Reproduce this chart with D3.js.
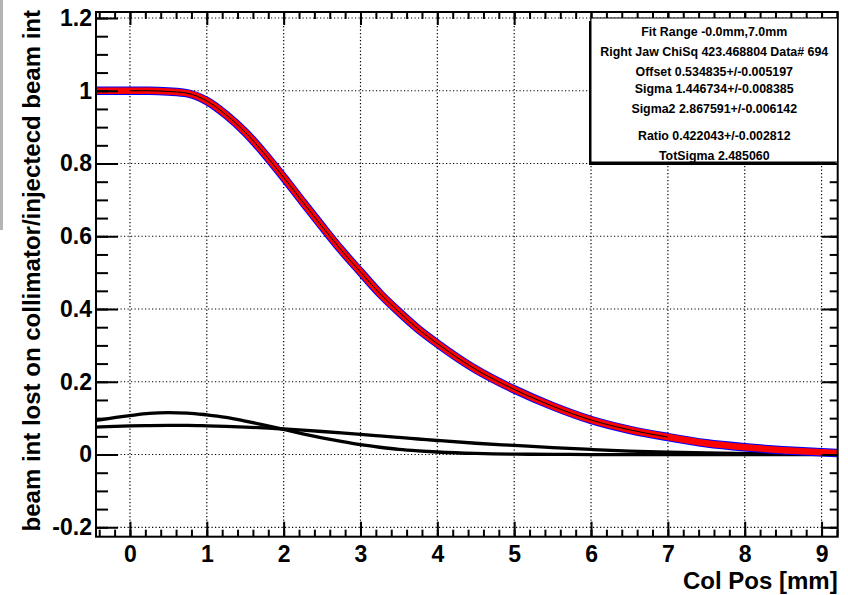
<!DOCTYPE html>
<html>
<head>
<meta charset="utf-8">
<script src="https://cdn.jsdelivr.net/npm/d3@7"></script>
<style>
  body { margin: 0; background: #fff; }
  svg { display: block; font-family: "Liberation Sans", Arial, Helvetica, sans-serif; font-weight: bold; }
</style>
</head>
<body>
<div id="my_dataviz"></div>
<script>
// collimator position scan
const colPos = [-0.44, 0, 0.25, 0.5, 0.75, 1, 1.25, 1.5, 1.75, 2, 2.25, 2.5, 2.75, 3, 3.25, 3.5, 3.75, 4, 4.5, 5, 5.5, 6, 6.5, 7, 7.5, 8, 8.5, 9, 9.21];
const beamLost = [1.0, 1.0, 1.0, 0.998, 0.993, 0.972, 0.934, 0.886, 0.827, 0.762, 0.694, 0.627, 0.562, 0.502, 0.443, 0.392, 0.345, 0.305, 0.234, 0.179, 0.133, 0.095, 0.068, 0.048, 0.031, 0.020, 0.012, 0.006, 0.004];
const gausNarrow = [0.094, 0.107, 0.113, 0.115, 0.114, 0.109, 0.102, 0.092, 0.081, 0.069, 0.057, 0.046, 0.036, 0.027, 0.020, 0.014, 0.010, 0.007, 0.003, 0.001, 0.0005, 0, 0, 0, 0, 0, 0, 0, 0];
const gausWide = [0.0755, 0.0786, 0.0796, 0.080, 0.080, 0.079, 0.0776, 0.0756, 0.0731, 0.0702, 0.0669, 0.0633, 0.0594, 0.0553, 0.0511, 0.0469, 0.0427, 0.0386, 0.031, 0.025, 0.019, 0.014, 0.0095, 0.0065, 0.0044, 0.0028, 0.0018, 0.0011, 0.0009];
const fitRange = [0, 7];

const xTicks = [0, 1, 2, 3, 4, 5, 6, 7, 8, 9];
const yTicks = [-0.2, 0, 0.2, 0.4, 0.6, 0.8, 1.0, 1.2];

const statLines = [
  "Fit Range -0.0mm,7.0mm",
  "Right Jaw ChiSq 423.468804 Data# 694",
  "Offset 0.534835+/-0.005197",
  "Sigma 1.446734+/-0.008385",
  "Sigma2 2.867591+/-0.006142",
  "Ratio 0.422043+/-0.002812",
  "TotSigma 2.485060"
];
const statY = [36.2, 55.8, 75.6, 93.2, 113, 139.6, 159.6];

const W = 848, H = 595;
const frame = { left: 96, right: 837.7, top: 12, bottom: 536.7 };

const svg = d3.select("#my_dataviz")
  .append("svg")
    .attr("width", W)
    .attr("height", H);

// grey strip at the very left edge of the canvas
svg.append("rect")
  .attr("x", 0).attr("y", 0).attr("width", 3).attr("height", 230)
  .attr("fill", "#b4b4b4");

const x = d3.scaleLinear()
  .domain([-0.442, 9.21])
  .range([frame.left, frame.right]);

const y = d3.scaleLinear()
  .domain([-0.2259, 1.2165])
  .range([frame.bottom, frame.top]);

const minorX = d3.range(-0.4, 9.21, 0.2).map(v => +v.toFixed(2));
const minorY = d3.range(-0.2, 1.2165, 0.05).map(v => +v.toFixed(2));

// grid
const grid = svg.append("g")
  .attr("stroke", "#000")
  .attr("stroke-width", 1.2)
  .attr("stroke-dasharray", "1.2,2.3");

grid.selectAll(".gx")
  .data(xTicks)
  .join("line")
    .attr("x1", d => x(d)).attr("x2", d => x(d))
    .attr("y1", frame.top).attr("y2", frame.bottom);

grid.selectAll(".gy")
  .data(yTicks)
  .join("line")
    .attr("y1", d => y(d)).attr("y2", d => y(d))
    .attr("x1", frame.left).attr("x2", frame.right);

const pts = colPos.map((c, i) => ({ c, v: beamLost[i], a: gausNarrow[i], b: gausWide[i] }));

svg.append("clipPath").attr("id", "plotclip")
  .append("rect")
    .attr("x", frame.left).attr("y", frame.top)
    .attr("width", frame.right - frame.left).attr("height", frame.bottom - frame.top);

const plot = svg.append("g").attr("clip-path", "url(#plotclip)");

const lineOf = key => d3.line()
  .x(d => x(d.c))
  .y(d => y(d[key]))
  .curve(d3.curveMonotoneX);

// fit components
plot.append("path")
  .attr("d", lineOf("a")(pts))
  .attr("fill", "none").attr("stroke", "#000").attr("stroke-width", 3.3);

plot.append("path")
  .attr("d", lineOf("b")(pts))
  .attr("fill", "none").attr("stroke", "#000").attr("stroke-width", 3.3);

// data: blue markers with red error bars
plot.append("path")
  .attr("d", lineOf("v")(pts))
  .attr("fill", "none").attr("stroke", "#0000ff").attr("stroke-width", 8.5);

plot.append("path")
  .attr("d", lineOf("v")(pts))
  .attr("fill", "none").attr("stroke", "#ff0000").attr("stroke-width", 6.5);

// fit curve
plot.append("path")
  .attr("d", lineOf("v")(pts.filter(d => d.c >= fitRange[0] && d.c <= fitRange[1])))
  .attr("fill", "none").attr("stroke", "#000").attr("stroke-width", 1);

// axes
const fmt = d => d3.format("~g")(d).replace("\u2212", "-");
const axisStyle = g => {
  g.select(".domain").remove();
  g.selectAll("line").attr("stroke", "#000").attr("stroke-width", 2);
  g.selectAll("text").attr("font-size", "23px").attr("font-weight", "bold").attr("fill", "#000");
};

svg.append("g")
  .attr("transform", `translate(${frame.left},0)`)
  .call(d3.axisLeft(y).tickValues(yTicks).tickSize(-22).tickPadding(4).tickFormat(fmt))
  .call(axisStyle);
svg.append("g")
  .attr("transform", `translate(${frame.left},0)`)
  .call(d3.axisLeft(y).tickValues(minorY).tickSize(-12).tickFormat(""))
  .call(axisStyle);

svg.append("g")
  .attr("transform", `translate(0,${frame.bottom})`)
  .call(d3.axisBottom(x).tickValues(xTicks).tickSize(-15).tickPadding(9).tickFormat(fmt))
  .call(axisStyle);
svg.append("g")
  .attr("transform", `translate(0,${frame.bottom})`)
  .call(d3.axisBottom(x).tickValues(minorX).tickSize(-7).tickFormat(""))
  .call(axisStyle);

svg.append("g")
  .attr("transform", `translate(0,${frame.top})`)
  .call(d3.axisTop(x).tickValues(xTicks).tickSize(-13).tickFormat(""))
  .call(axisStyle);
svg.append("g")
  .attr("transform", `translate(0,${frame.top})`)
  .call(d3.axisTop(x).tickValues(minorX).tickSize(-7).tickFormat(""))
  .call(axisStyle);

svg.append("g")
  .attr("transform", `translate(${frame.right},0)`)
  .call(d3.axisRight(y).tickValues(yTicks).tickSize(-16).tickFormat(""))
  .call(axisStyle);
svg.append("g")
  .attr("transform", `translate(${frame.right},0)`)
  .call(d3.axisRight(y).tickValues(minorY).tickSize(-8).tickFormat(""))
  .call(axisStyle);

// frame
svg.append("rect")
  .attr("x", frame.left).attr("y", frame.top)
  .attr("width", frame.right - frame.left).attr("height", frame.bottom - frame.top)
  .attr("fill", "none").attr("stroke", "#000").attr("stroke-width", 2);

// axis titles
svg.append("text")
  .attr("x", frame.right).attr("y", 589)
  .attr("text-anchor", "end")
  .attr("font-size", "24px")
  .text("Col Pos [mm]");

svg.append("text")
  .attr("transform", "translate(40,10) rotate(-90)")
  .attr("text-anchor", "end")
  .attr("font-size", "24px")
  .text("beam int lost on collimator/injectecd beam int");

// stats box
const box = { x: 591, y: 18, w: 246.5, h: 144 };
svg.append("rect")
  .attr("x", box.x - 2).attr("y", box.y + 3)
  .attr("width", box.w).attr("height", box.h)
  .attr("fill", "#000");
svg.append("rect")
  .attr("x", box.x).attr("y", box.y)
  .attr("width", box.w).attr("height", box.h)
  .attr("fill", "#fff").attr("stroke", "#000").attr("stroke-width", 1);

svg.selectAll(".stat")
  .data(statLines)
  .join("text")
    .attr("class", "stat")
    .attr("x", box.x + box.w / 2)
    .attr("y", (d, i) => statY[i])
    .attr("text-anchor", "middle")
    .attr("font-size", "12.4px")
    .text(d => d);
</script>
</body>
</html>
